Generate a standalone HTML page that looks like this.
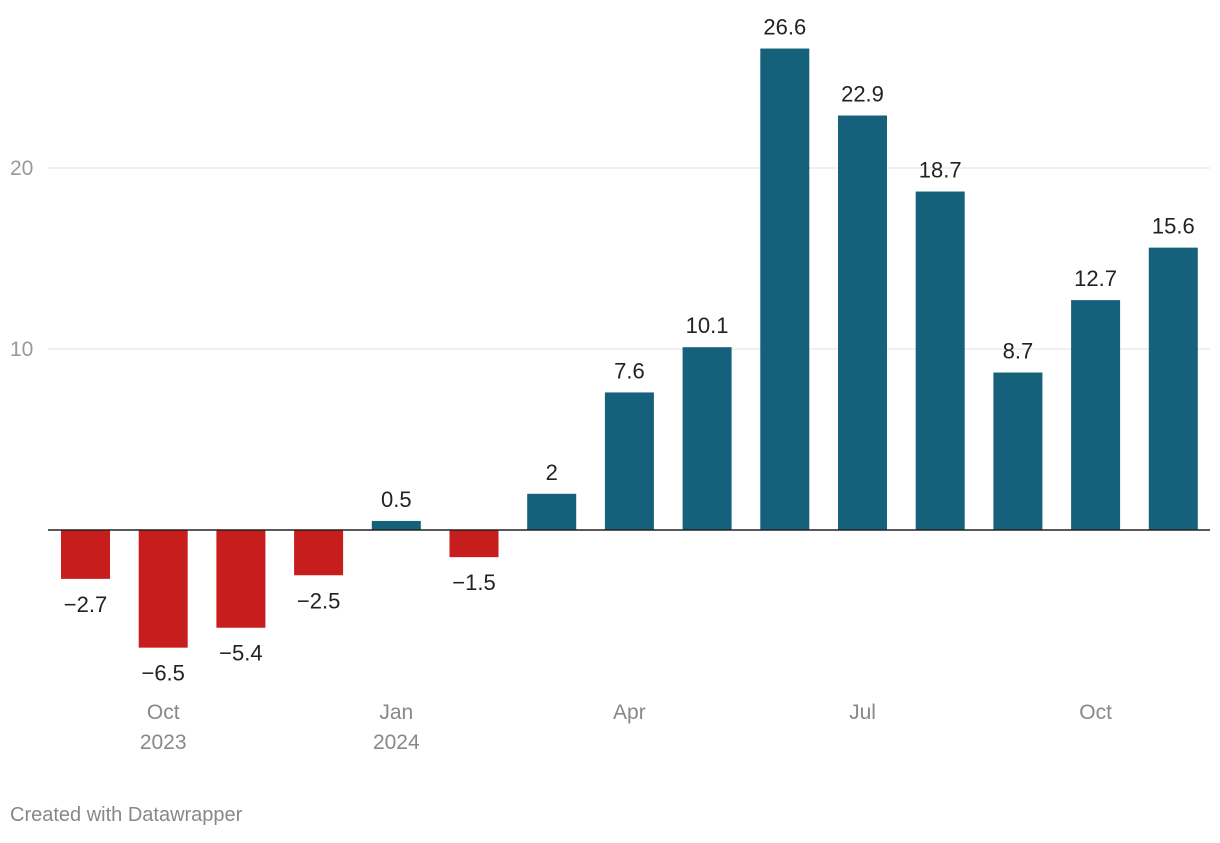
<!DOCTYPE html>
<html><head><meta charset="utf-8">
<style>
body{margin:0;background:#fff;width:1220px;height:838px;overflow:hidden;font-family:"Liberation Sans",sans-serif;}
svg text{font-family:"Liberation Sans",sans-serif;}
</style></head>
<body>
<svg id="chart" width="1220" height="838" viewBox="0 0 1220 838"></svg>
<script>
const values=[-2.7,-6.5,-5.4,-2.5,0.5,-1.5,2,7.6,10.1,26.6,22.9,18.7,8.7,12.7,15.6];
const valueLabels=["−2.7","−6.5","−5.4","−2.5","0.5","−1.5","2","7.6","10.1","26.6","22.9","18.7","8.7","12.7","15.6"];
const yTicks=[10,20];
const xTickIdx=[1,4,7,10,13];
const xTickLine1=["Oct","Jan","Apr","Jul","Oct"];
const xTickLine2=["2023","2024","","",""];

const svg=document.getElementById('chart');
const NS='http://www.w3.org/2000/svg';
const y0=530,ppu=18.1;
const yScale=v=>y0-v*ppu;
const xCenter=i=>85.5+i*77.7;
const bw=49;
function mk(tag,attrs){const e=document.createElementNS(NS,tag);for(const k in attrs)e.setAttribute(k,attrs[k]);svg.appendChild(e);return e;}

yTicks.forEach(t=>{
  const l=mk('line',{x1:48,x2:1210,y1:yScale(t),y2:yScale(t),stroke:'#e0e0e0','stroke-width':1});
  
  
  const tx=mk('text',{x:10,y:yScale(t)+7,'font-size':21,fill:'#999'});
  tx.textContent=t;
  
  
});

values.forEach((v,i)=>{
  const top=Math.min(yScale(v),y0),h=Math.abs(yScale(v)-y0);
  const r=mk('rect',{x:xCenter(i)-bw/2,y:top,width:bw,height:h,fill:v<0?'#c71e1d':'#15607a'});
  
  
  const ly=v<0?yScale(v)+33:yScale(v)-14;
  const t=mk('text',{x:xCenter(i),y:ly,'font-size':22,fill:'#222','text-anchor':'middle'});
  t.textContent=valueLabels[i];
  
  
});

const zl=mk('line',{x1:48,x2:1210,y1:y0,y2:y0,stroke:'#222','stroke-width':1.5});



xTickIdx.forEach((idx,k)=>{
  const t=mk('text',{x:xCenter(idx),y:719,'font-size':21,fill:'#888','text-anchor':'middle'});
  t.textContent=xTickLine1[k];
  
  
  if(xTickLine2[k]){
    const t2=mk('text',{x:xCenter(idx),y:749,'font-size':21,fill:'#888','text-anchor':'middle'});
    t2.textContent=xTickLine2[k];
    
    
  }
});

const f=mk('text',{x:10,y:821,'font-size':20,fill:'#888'});
f.textContent='Created with Datawrapper';


</script>
</body></html>
